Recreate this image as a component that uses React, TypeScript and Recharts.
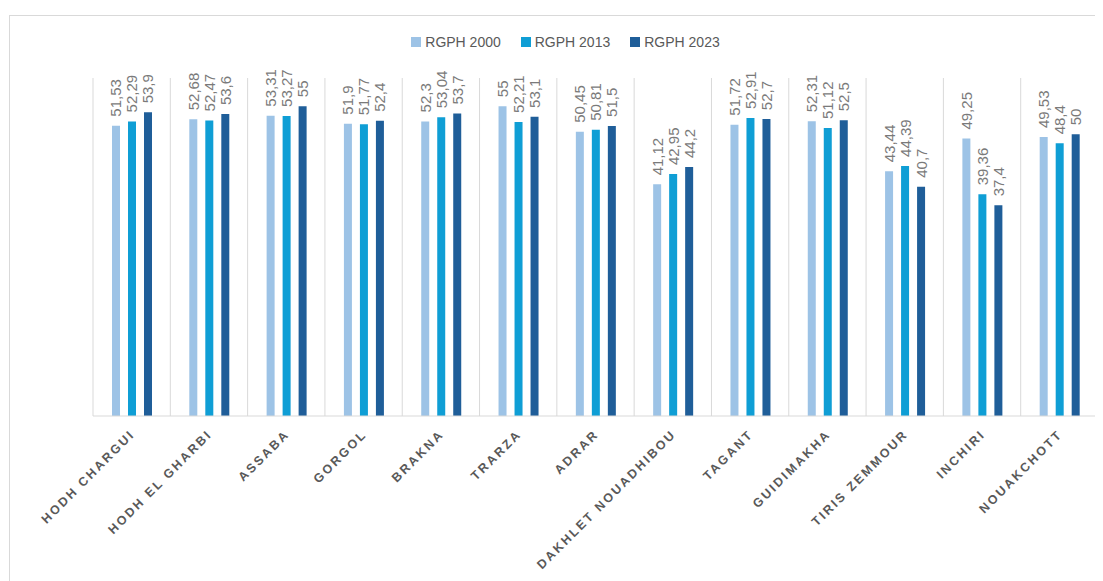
import React from 'react';
import { BarChart, Bar, XAxis, YAxis, CartesianGrid, Legend, LabelList } from 'recharts';

// regions (wilayas)
const regions = [
  "HODH CHARGUI", "HODH EL GHARBI", "ASSABA", "GORGOL", "BRAKNA", "TRARZA", "ADRAR",
  "DAKHLET NOUADHIBOU", "TAGANT", "GUIDIMAKHA", "TIRIS ZEMMOUR", "INCHIRI", "NOUAKCHOTT"
];

const rgph2000 = [51.53, 52.68, 53.31, 51.9, 52.3, 55, 50.45, 41.12, 51.72, 52.31, 43.44, 49.25, 49.53];
const rgph2013 = [52.29, 52.47, 53.27, 51.77, 53.04, 52.21, 50.81, 42.95, 52.91, 51.12, 44.39, 39.36, 48.4];
const rgph2023 = [53.9, 53.6, 55, 52.4, 53.7, 53.1, 51.5, 44.2, 52.7, 52.5, 40.7, 37.4, 50];

const seriesInfo = [
  { key: 'y2000', name: 'RGPH 2000', color: '#9DC3E6' },
  { key: 'y2013', name: 'RGPH 2013', color: '#0F9ED5' },
  { key: 'y2023', name: 'RGPH 2023', color: '#1F5E99' },
];

const data = regions.map((r, i) => ({
  region: r,
  y2000: rgph2000[i],
  y2013: rgph2013[i],
  y2023: rgph2023[i],
}));

const FONT = '"Liberation Sans", Arial, sans-serif';

const fmt = (v: number) => String(v).replace('.', ',');

const ValueLabel = (props: any) => {
  const { x, y, width, value } = props;
  const cx = x + width / 2;
  const ty = y - 9;
  return (
    <text
      x={cx}
      y={ty}
      transform={`rotate(-90, ${cx}, ${ty})`}
      textAnchor="start"
      dominantBaseline="central"
      fontSize={15}
      fontFamily={FONT}
      fill="#7a7a7a"
    >
      {fmt(value)}
    </text>
  );
};

const RegionTick = (props: any) => {
  const { x, y, payload } = props;
  return (
    <g transform={`translate(${x + 4}, ${y + 11})`}>
      <text
        x={0}
        y={0}
        textAnchor="end"
        transform="rotate(-45)"
        fontSize={12.5}
        fontWeight="bold"
        letterSpacing={2.3}
        fontFamily={FONT}
        fill="#595959"
      >
        {payload.value}
      </text>
    </g>
  );
};

const LegendContent = () => (
  <div style={{ display: 'flex', justifyContent: 'center', paddingLeft: 20, fontFamily: FONT, fontSize: 14, color: '#595959', height: 20, alignItems: 'center' }}>
    {seriesInfo.map((s, i) => (
      <div key={s.key} style={{ display: 'flex', alignItems: 'center', marginRight: i < seriesInfo.length - 1 ? 20 : 0 }}>
        <span style={{ width: 10, height: 10, background: s.color, marginRight: 4, display: 'inline-block' }} />
        <span>{s.name}</span>
      </div>
    ))}
  </div>
);

const App: React.FC = () => {
  return (
    <div style={{ position: 'relative', width: 1095, height: 573, overflow: 'hidden', background: '#fff' }}>
      <div style={{ position: 'absolute', left: 1, top: 7, width: 1300, height: 800, border: '1px solid #d9d9d9' }} />
      <div style={{ position: 'absolute', left: 0, top: 0 }}>
        <BarChart
          width={1095}
          height={573}
          data={data}
          margin={{ top: 50, right: 5, bottom: 0, left: 85 }}
          barSize={8}
          barGap={8}
        >
          <CartesianGrid
            horizontal={false}
            stroke="#d9d9d9"
            verticalCoordinatesGenerator={({ offset }: any) =>
              regions.map((_, i) => offset.left + (i * offset.width) / regions.length).concat(offset.left + offset.width)
            }
          />
          <XAxis
            dataKey="region"
            height={165}
            interval={0}
            tickLine={false}
            axisLine={{ stroke: '#d9d9d9' }}
            tick={<RegionTick />}
          />
          <YAxis hide domain={[0, 60]} />
          <Legend
            verticalAlign="top"
            align="center"
            wrapperStyle={{ top: 24, left: 0, width: 1095 }}
            content={<LegendContent />}
          />
          {seriesInfo.map((s) => (
            <Bar key={s.key} dataKey={s.key} name={s.name} fill={s.color} isAnimationActive={false}>
              <LabelList dataKey={s.key} content={<ValueLabel />} />
            </Bar>
          ))}
        </BarChart>
      </div>
    </div>
  );
};

export default App;
